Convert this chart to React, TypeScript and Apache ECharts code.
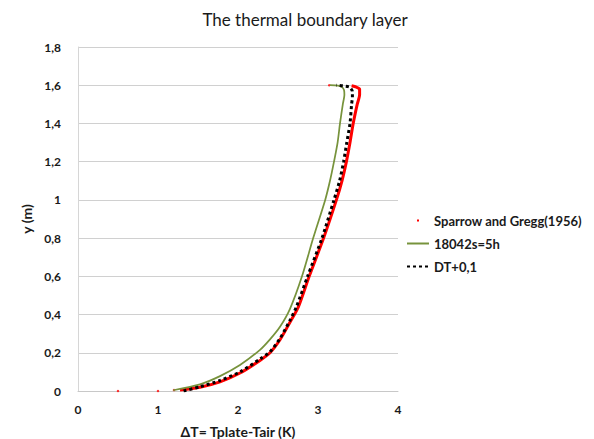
import React, { useEffect, useRef } from "react";
import * as echarts from "echarts";

const titleText = "The thermal boundary layer";
const xName = "ΔT= Tplate-Tair (K)";
const yName = "y (m)";
const seriesNames = ["Sparrow and Gregg(1956)", "18042s=5h", "DT+0,1"];

// Sparrow and Gregg (1956) – dense part (drawn as thick red curve)
const sparrowT = [1.275, 1.525, 1.775, 2.025, 2.275, 2.4, 2.525, 2.65, 2.755, 2.89, 3.07, 3.23, 3.3, 3.355, 3.4, 3.44, 3.49, 3.52, 3.52, 3.48, 3.42];
const sparrowY = [0.005, 0.02, 0.048, 0.094, 0.16, 0.2, 0.268, 0.36, 0.44, 0.6, 0.8, 1.0, 1.1, 1.2, 1.3, 1.4, 1.5, 1.55, 1.58, 1.59, 1.597];
// Sparrow and Gregg (1956) – isolated points
const sparrowSparseT = [0.5, 1.0, 1.2, 3.14];
const sparrowSparseY = [0, 0, 0.005, 1.6];
// 18042s=5h
const measuredT = [1.19, 1.525, 1.775, 2.025, 2.275, 2.4, 2.525, 2.65, 2.8, 2.94, 3.09, 3.15, 3.2, 3.245, 3.275, 3.31, 3.33, 3.325, 3.3, 3.25, 3.15];
const measuredY = [0.004, 0.035, 0.078, 0.136, 0.215, 0.27, 0.336, 0.43, 0.6, 0.8, 1.0, 1.1, 1.2, 1.3, 1.4, 1.5, 1.55, 1.575, 1.59, 1.598, 1.6];
// DT+0,1
const shiftedT = [1.32, 1.525, 1.775, 2.025, 2.275, 2.4, 2.525, 2.65, 2.73, 2.87, 3.05, 3.2, 3.27, 3.32, 3.36, 3.4, 3.42, 3.43, 3.43, 3.39, 3.23];
const shiftedY = [0.0, 0.022, 0.055, 0.1, 0.167, 0.205, 0.275, 0.37, 0.44, 0.6, 0.8, 1.0, 1.1, 1.2, 1.3, 1.4, 1.5, 1.54, 1.567, 1.591, 1.6];

const zip = (a: number[], b: number[]) => a.map((v, i) => [v, b[i]]);
const fmt = (v: number) => String(Math.round(v * 10) / 10).replace(".", ",");

const FONT = "Lato";
const TXT = "#1a1a1a";
const NO_SYMBOL = "path://M0,0M1,1";

export default function App() {
  const ref = useRef<HTMLDivElement>(null);
  useEffect(() => {
    document.body.style.margin = "0";
    if (!ref.current) return;
    const chart = echarts.init(ref.current, null, { renderer: "svg" });
    chart.setOption({
      animation: false,
      backgroundColor: "#ffffff",
      title: {
        text: titleText,
        left: 300,
        top: 6,
        textAlign: "center",
        textStyle: { fontFamily: FONT, fontSize: 17, fontWeight: "normal", color: TXT },
      },
      legend: {
        orient: "vertical",
        left: 406,
        top: 214,
        padding: 0,
        itemWidth: 22,
        itemHeight: 12,
        itemGap: 10,
        textStyle: { fontFamily: FONT, fontSize: 13, fontWeight: "bold", color: TXT },
        data: [
          { name: seriesNames[0], icon: "path://M0,0M12,12M5,5L7,5L7,7L5,7Z" },
          { name: seriesNames[1] },
          { name: seriesNames[2] },
        ],
      },
      grid: { left: 78, right: 196, top: 47, bottom: 48, outerBoundsMode: "none", containLabel: false },
      xAxis: {
        type: "value",
        min: 0,
        max: 4,
        interval: 1,
        name: xName,
        nameLocation: "middle",
        nameGap: 33,
        nameTextStyle: { fontFamily: FONT, fontSize: 14, fontWeight: "bold", color: TXT },
        axisLine: { show: true, lineStyle: { color: "#c8c8c8", width: 1 } },
        axisTick: { show: false },
        splitLine: { show: false },
        axisLabel: { margin: 12, formatter: fmt, fontFamily: FONT, fontSize: 12, fontWeight: "bold", color: TXT },
      },
      yAxis: {
        type: "value",
        min: 0,
        max: 1.8,
        interval: 0.2,
        name: yName,
        nameLocation: "middle",
        nameGap: 44,
        nameTextStyle: { fontFamily: FONT, fontSize: 14, fontWeight: "bold", color: TXT },
        axisLine: { show: true, lineStyle: { color: "#d6d6d6", width: 1 } },
        axisTick: { show: false },
        splitLine: { show: true, lineStyle: { color: "#d0d0d0", width: 1 } },
        axisLabel: { margin: 17, formatter: fmt, fontFamily: FONT, fontSize: 12, fontWeight: "bold", color: TXT },
      },
      series: [
        {
          name: seriesNames[0],
          type: "line",
          data: zip(sparrowT, sparrowY),
          showSymbol: false,
          symbol: NO_SYMBOL,
          smooth: 0.25,
          color: "#ff0000",
          lineStyle: { color: "#ff0000", width: 3 },
        },
        {
          name: seriesNames[0],
          type: "scatter",
          data: zip(sparrowSparseT, sparrowSparseY),
          symbol: "circle",
          symbolSize: 2.5,
          itemStyle: { color: "#ff0000" },
        },
        {
          name: seriesNames[1],
          type: "line",
          data: zip(measuredT, measuredY),
          showSymbol: false,
          symbol: NO_SYMBOL,
          smooth: 0.25,
          color: "#77933c",
          lineStyle: { color: "#77933c", width: 1.75 },
        },
        {
          name: seriesNames[2],
          type: "line",
          data: zip(shiftedT, shiftedY),
          showSymbol: false,
          symbol: NO_SYMBOL,
          smooth: 0.25,
          color: "#000000",
          lineStyle: { color: "#000000", width: 3, type: [3, 3], cap: "butt" },
        },
      ],
    });
    return () => chart.dispose();
  }, []);
  return <div ref={ref} style={{ width: 594, height: 439 }} />;
}
